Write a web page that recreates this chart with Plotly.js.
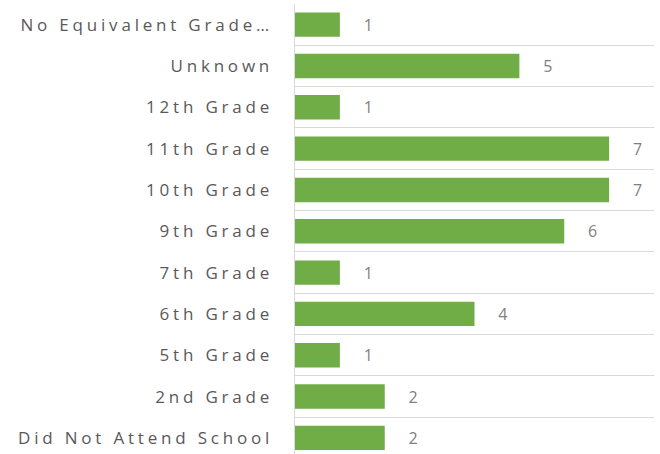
<!DOCTYPE html>
<html>
<head>
<meta charset="utf-8">
<script src="https://cdn.plot.ly/plotly-3.0.1.min.js"></script>
<style>
  body { margin: 0; }
  .ytick text { letter-spacing: 3.8px; }
</style>
</head>
<body>
<div id="plotBar" style="width:660px;height:454px;"></div>
<script>
'use strict'

let grades = ['Did Not Attend School', '2nd Grade', '5th Grade', '6th Grade', '7th Grade',
  '9th Grade', '10th Grade', '11th Grade', '12th Grade', 'Unknown', 'No Equivalent Grade\u2026']
let counts = [2, 2, 1, 4, 1, 6, 7, 7, 1, 5, 1]

let bar_data = [{
  x: counts,
  y: grades,
  type: 'bar',
  orientation: 'h',
  marker: {color: '#70AD47'},
  texttemplate: '\u00a0\u00a0\u00a0\u00a0\u00a0%{x}',
  textposition: 'outside',
  cliponaxis: false,
  textfont: {family: 'Open Sans', size: 16, color: '#808080'},
  hoverinfo: 'none'
}]

let layout = {
  width: 660, height: 454,
  margin: {l: 295, r: 6, t: 4, b: 0},
  bargap: 0.41,
  showlegend: false,
  paper_bgcolor: 'white', plot_bgcolor: 'white',
  font: {family: 'Open Sans', color: '#595959'},
  xaxis: {range: [0, 8], showgrid: false, zeroline: false, showticklabels: false,
    showline: false, fixedrange: true},
  yaxis: {type: 'category', range: [-0.39, 10.5], tickson: 'boundaries',
    showgrid: true, gridcolor: '#d9d9d9', gridwidth: 1,
    showline: true, linecolor: '#d9d9d9', linewidth: 1.5,
    ticks: '', ticklabelstandoff: 17,
    tickfont: {family: 'Open Sans', size: 17, color: '#595959'}}
}

Plotly.newPlot(document.getElementById('plotBar'), bar_data, layout, {displayModeBar: false, staticPlot: true})
</script>
</body>
</html>
